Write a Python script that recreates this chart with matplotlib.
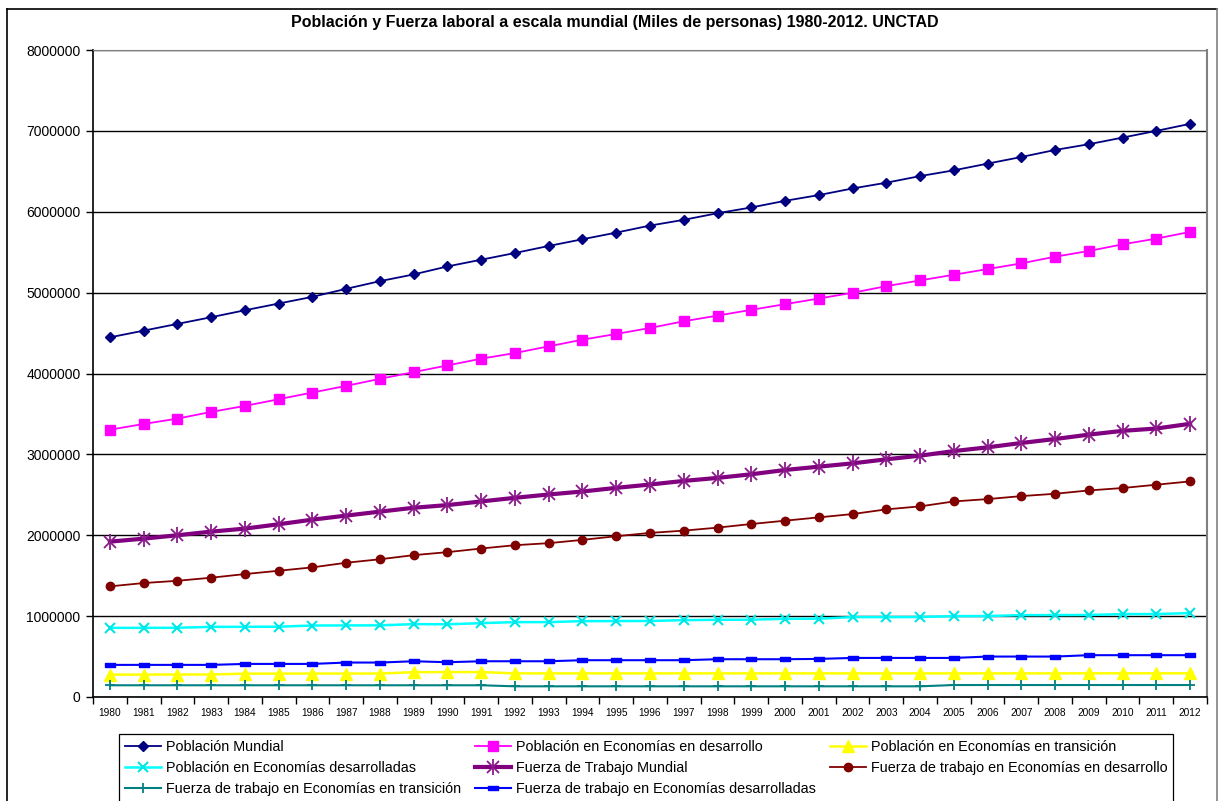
import matplotlib
matplotlib.use("Agg")
import matplotlib.pyplot as plt
from matplotlib.lines import Line2D
from matplotlib.legend_handler import HandlerTuple
from matplotlib.ticker import FixedLocator, FuncFormatter, MultipleLocator

plt.rcParams['font.family'] = ['Liberation Sans', 'DejaVu Sans']

years = list(range(1980, 2013))

poblacion_mundial = [
    4447000, 4530000, 4613000, 4696000, 4782000, 4865000, 4948000, 5047000,
    5142000, 5225000, 5324000, 5407000, 5490000, 5577000, 5660000, 5742000,
    5829000, 5900000, 5982000, 6053000, 6135000, 6206000, 6288000, 6359000,
    6441000, 6512000, 6595000, 6677000, 6764000, 6835000, 6917000, 7000000,
    7087000]
poblacion_desarrollo = [
    3305000, 3376000, 3442000, 3525000, 3599000, 3682000, 3765000, 3847000,
    3934000, 4017000, 4100000, 4183000, 4253000, 4336000, 4418000, 4489000,
    4563000, 4646000, 4716000, 4787000, 4857000, 4927000, 4998000, 5080000,
    5151000, 5221000, 5291000, 5362000, 5444000, 5515000, 5597000, 5668000,
    5751000]
poblacion_transicion = [
    277000, 277000, 278000, 278000, 289000, 289000, 290000, 290000,
    290000, 307000, 308000, 308000, 292000, 292000, 292000, 292000,
    292000, 292000, 292000, 292000, 292000, 292000, 292000, 292000,
    292000, 292000, 292000, 292000, 292000, 293000, 293000, 293000,
    293000]
poblacion_desarrolladas = [
    855000, 855000, 856000, 867000, 868000, 869000, 884000, 885000,
    886000, 901000, 899000, 913000, 926000, 926000, 938000, 939000,
    940000, 950000, 955000, 956000, 967000, 968000, 988000, 988000,
    989000, 1000000, 1001000, 1012000, 1013000, 1014000, 1025000, 1026000,
    1037000]
fuerza_mundial = [
    1921000, 1958000, 2000000, 2045000, 2082000, 2136000, 2193000, 2243000,
    2292000, 2340000, 2373000, 2418000, 2463000, 2504000, 2541000, 2586000,
    2627000, 2672000, 2709000, 2754000, 2807000, 2848000, 2889000, 2939000,
    2984000, 3041000, 3087000, 3141000, 3190000, 3244000, 3291000, 3320000,
    3378000]
fuerza_desarrollo = [
    1368000, 1409000, 1437000, 1475000, 1520000, 1561000, 1603000, 1660000,
    1703000, 1754000, 1791000, 1836000, 1877000, 1902000, 1943000, 1988000,
    2029000, 2057000, 2094000, 2139000, 2180000, 2221000, 2262000, 2320000,
    2357000, 2418000, 2447000, 2484000, 2513000, 2554000, 2584000, 2625000,
    2666000]
fuerza_transicion = [
    145000, 145000, 145000, 145000, 145000, 145000, 145000, 145000,
    145000, 145000, 145000, 145000, 132000, 132000, 132000, 132000,
    132000, 132000, 132000, 132000, 132000, 132000, 132000, 132000,
    132000, 148000, 148000, 148000, 148000, 148000, 148000, 148000,
    148000]
fuerza_desarrolladas = [
    397000, 397000, 397000, 397000, 409000, 409000, 409000, 426000,
    426000, 442000, 430000, 442000, 442000, 442000, 455000, 455000,
    455000, 455000, 467000, 467000, 467000, 471000, 483000, 483000,
    483000, 483000, 500000, 500000, 500000, 517000, 517000, 517000,
    517000]

labels = [
    "Población Mundial",
    "Población en Economías en desarrollo",
    "Población en Economías en transición",
    "Población en Economías desarrolladas",
    "Fuerza de Trabajo Mundial",
    "Fuerza de trabajo en Economías en desarrollo",
    "Fuerza de trabajo en Economías en transición",
    "Fuerza de trabajo en Economías desarrolladas",
]

title = "Población y Fuerza laboral a escala mundial (Miles de personas) 1980-2012. UNCTAD"

W, H = 1219, 801
fig = plt.figure(figsize=(W / 100, H / 100), dpi=100)
ax = fig.add_axes([93 / W, 1 - 697 / H, (1207 - 93) / W, (697 - 50) / H])

x = list(range(len(years)))

# small horizontal bar marker used for the developed-economy labour force
dash_marker = [(-1, -0.45), (1, -0.45), (1, 0.45), (-1, 0.45), (-1, -0.45)]

h_pm, = ax.plot(x, poblacion_mundial, color='#000080', lw=1.3, marker='D',
                ms=5.5, mfc='#000080', mec='#000080', zorder=5)
h_pd, = ax.plot(x, poblacion_desarrollo, color='#FF00FF', lw=1.3, marker='s',
                ms=6.5, mfc='#FF00FF', mec='#FF00FF', zorder=5)
h_pt, = ax.plot(x, poblacion_transicion, color='#FFFF00', lw=1.8, marker='^',
                ms=8, mfc='#FFFF00', mec='#FFFF00', zorder=4)
h_pdd, = ax.plot(x, poblacion_desarrolladas, color='#00FFFF', lw=1.8, marker='x',
                 ms=7.5, mew=1.5, mec='#00E5E5', zorder=4)
h_fm, = ax.plot(x, fuerza_mundial, color='#800080', lw=3.0, marker='x',
                ms=9, mew=1.3, mec='#8B1A8B', zorder=5)
h_fm2, = ax.plot(x, fuerza_mundial, color='#8B1A8B', lw=0, marker='|',
                 ms=12, mew=1.3, zorder=5)
h_fd, = ax.plot(x, fuerza_desarrollo, color='#800000', lw=1.3, marker='o',
                ms=6, mfc='#800000', mec='#800000', zorder=5)
h_ft, = ax.plot(x, fuerza_transicion, color='#008080', lw=1.5, marker='+',
                ms=7, mew=1.3, mec='#008080', zorder=4)
h_fdd, = ax.plot(x, fuerza_desarrolladas, color='#0000FF', lw=1.5, marker=dash_marker,
                 ms=7, mfc='#0000FF', mec='#0000FF', zorder=4)

ax.set_xlim(-0.5, len(years) - 0.5)
ax.set_ylim(0, 8000000)

# y axis
ax.yaxis.set_major_locator(MultipleLocator(1000000))
ax.yaxis.set_major_formatter(FuncFormatter(lambda v, p: f"{int(round(v))}"))
ax.tick_params(axis='y', which='major', direction='out', length=5, width=1,
               labelsize=10, pad=4, color='black')
ax.yaxis.grid(True, color='black', lw=1.0)
ax.set_axisbelow(True)

# x axis: tick marks between categories, labels at centres
ax.xaxis.set_major_locator(FixedLocator([i - 0.5 for i in range(len(years) + 1)]))
ax.xaxis.set_major_formatter(FuncFormatter(lambda v, p: ""))
ax.xaxis.set_minor_locator(FixedLocator(x))
ax.set_xticks(x, [str(y) for y in years], minor=True)
ax.tick_params(axis='x', which='major', direction='out', length=5, width=1, color='black')
ax.tick_params(axis='x', which='minor', length=0, labelsize=7.3, pad=8)

for s in ('left', 'bottom'):
    ax.spines[s].set_color('black')
    ax.spines[s].set_linewidth(1.2)
ax.spines['top'].set_color('#808080')
ax.spines['right'].set_color('#808080')
ax.spines['right'].set_linewidth(1.5)

# chart border
border_kw = dict(color='black', lw=1.2, transform=fig.transFigure)
fig.add_artist(Line2D([7 / W, 1217 / W], [1 - 9 / H, 1 - 9 / H], **border_kw))
fig.add_artist(Line2D([7 / W, 7 / W], [0, 1 - 9 / H], **border_kw))
fig.add_artist(Line2D([1217 / W, 1217 / W], [0, 1 - 9 / H], color='#808080', lw=1.2,
                      transform=fig.transFigure))

fig.text(615 / W, 1 - 22 / H, title, ha='center', va='center',
         fontsize=11.5, fontweight='bold')

# legend laid out row by row in three columns
handles = [h_pm, h_pd, h_pt, h_pdd, (h_fm, h_fm2), h_fd, h_ft, h_fdd]
order = [0, 3, 6, 1, 4, 7, 2, 5]
leg = fig.legend([handles[i] for i in order], [labels[i] for i in order],
                 ncol=3, loc='upper left',
                 bbox_to_anchor=(119 / W, 1 - 734 / H),
                 fontsize=10.4, frameon=True, fancybox=False, shadow=False,
                 edgecolor='black', framealpha=1, borderpad=0.4,
                 labelspacing=0.5, handlelength=2.5, handletextpad=0.35,
                 columnspacing=0.95, borderaxespad=0,
                 handler_map={tuple: HandlerTuple(ndivide=1, pad=0)})
leg.get_frame().set_linewidth(0.9)

fig.savefig("out.png", dpi=100)
